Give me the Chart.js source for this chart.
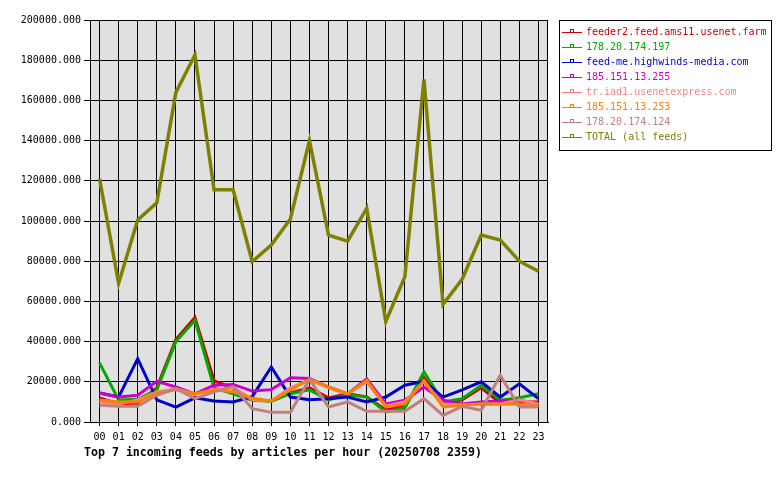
<!DOCTYPE html>
<html>
<head>
<meta charset="utf-8">
<script src="https://cdn.jsdelivr.net/npm/chart.js@4/dist/chart.umd.min.js"></script>
<style>
  html, body { margin: 0; padding: 0; background: #ffffff; }
  #wrap { width: 780px; height: 480px; }
</style>
</head>
<body>
<div id="wrap"><canvas id="c" width="780" height="480"></canvas></div>
<script>
const hours = ['00','01','02','03','04','05','06','07','08','09','10','11','12','13','14','15','16','17','18','19','20','21','22','23'];

const seriesNames = [
  'feeder2.feed.ams11.usenet.farm',
  '178.20.174.197',
  'feed-me.highwinds-media.com',
  '185.151.13.255',
  'tr.iad1.usenetexpress.com',
  '185.151.13.253',
  '178.20.174.124',
  'TOTAL (all feeds)'
];

const feeder2 = [12000, 9000, 9500, 17000, 41000, 52000, 20500, 17000, 11000, 10500, 14500, 17000, 12000, 14000, 12500, 6000, 8000, 22000, 9500, 11000, 17000, 9500, 10000, 10000];
const ip197   = [29400, 11000, 11300, 16000, 40000, 50600, 17000, 14000, 10800, 10300, 14100, 16000, 11000, 13600, 12400, 5000, 7000, 24900, 10000, 11600, 18200, 10800, 12100, 14100];
const highwinds = [14400, 12400, 31500, 11000, 7400, 12000, 10400, 10000, 12600, 27400, 12400, 11100, 11600, 12400, 10000, 12400, 18300, 20200, 12400, 16000, 20000, 12400, 19000, 11600];
const ip255   = [14400, 12400, 13300, 20200, 17400, 14000, 18300, 18700, 15400, 16100, 22000, 21600, 17400, 14000, 21500, 9000, 10800, 17400, 10800, 9000, 10000, 10400, 10800, 9000];
const usenetexpress = [10000, 9000, 11000, 15000, 16500, 14000, 16000, 17000, 11000, 10500, 17000, 21000, 17000, 14000, 20000, 8000, 10000, 20000, 9000, 8500, 9000, 9000, 11000, 9000];
const ip253   = [11000, 10000, 10000, 14400, 16000, 14000, 16000, 15000, 11800, 10500, 16000, 21200, 17400, 14000, 20700, 7500, 9000, 20700, 7500, 8300, 9000, 8800, 9000, 8300];
const ip124   = [8300, 7800, 7800, 13300, 16600, 11600, 15000, 17700, 6600, 4800, 4800, 21200, 7500, 10000, 5300, 5300, 5300, 11600, 3300, 7800, 5800, 23200, 7500, 7500];
const total   = [121000, 69000, 100500, 109000, 164000, 182600, 115500, 115500, 79800, 88000, 101000, 140000, 93000, 90000, 106300, 50000, 72300, 170500, 58500, 71000, 93000, 90500, 80000, 75000];

const yTicks = [0, 20000, 40000, 60000, 80000, 100000, 120000, 140000, 160000, 180000, 200000];

const colors = ['#cc0000', '#00aa00', '#0000cc', '#cc00cc', '#ff8080', '#ff8000', '#c08080', '#808000'];
const values = [feeder2, ip197, highwinds, ip255, usenetexpress, ip253, ip124, total];

const MONO = '"DejaVu Sans Mono", "Liberation Mono", monospace';

const datasets = values.map((v, i) => ({
  label: seriesNames[i],
  data: v,
  borderColor: colors[i],
  backgroundColor: colors[i],
  borderWidth: i === 7 ? 3.5 : 3,
  pointRadius: 0,
  fill: false,
  tension: 0,
  order: values.length - i
}));

const bgPlugin = {
  id: 'bg',
  beforeDraw(chart) {
    const ctx = chart.ctx, a = chart.chartArea;
    ctx.save();
    ctx.fillStyle = '#ffffff';
    ctx.fillRect(0, 0, chart.width, chart.height);
    ctx.fillStyle = '#e0e0e0';
    ctx.fillRect(a.left, a.top, a.right - a.left, a.bottom - a.top);
    ctx.restore();
  },
  beforeDatasetsDraw(chart) {
    const ctx = chart.ctx, a = chart.chartArea;
    ctx.save();
    ctx.strokeStyle = '#000';
    ctx.lineWidth = 1;
    ctx.strokeRect(Math.round(a.left) + 0.5, Math.round(a.top) + 0.5, Math.round(a.right - a.left) - 1, Math.round(a.bottom - a.top));
    ctx.restore();
  },
  afterDraw(chart) {
    const ctx = chart.ctx;
    ctx.save();
    // legend box
    const bx = 559, by = 20, bw = 212, bh = 130;
    ctx.strokeStyle = '#000';
    ctx.lineWidth = 1;
    ctx.strokeRect(bx + 0.5, by + 0.5, bw, bh);
    ctx.font = '10px ' + MONO;
    ctx.textBaseline = 'middle';
    ctx.textAlign = 'left';
    chart.data.datasets.forEach((ds, i) => {
      const y = 32 + i * 15;
      ctx.strokeStyle = ds.borderColor;
      ctx.lineWidth = 1;
      ctx.beginPath();
      ctx.moveTo(562, y + 0.5);
      ctx.lineTo(582, y + 0.5);
      ctx.stroke();
      ctx.strokeRect(570.5, y - 2.5, 3, 3);
      ctx.fillStyle = ds.borderColor;
      ctx.fillText(ds.label, 586, y);
    });
    // bottom title
    ctx.fillStyle = '#000';
    ctx.font = 'bold 11.6px ' + MONO;
    ctx.textBaseline = 'alphabetic';
    ctx.fillText('Top 7 incoming feeds by articles per hour (20250708 2359)', 84, 456);
    ctx.restore();
  }
};

new Chart(document.getElementById('c'), {
  type: 'line',
  data: { labels: hours, datasets: datasets },
  options: {
    responsive: false,
    animation: false,
    devicePixelRatio: 1,
    layout: { padding: { top: 20, right: 232, bottom: 0, left: 0 } },
    plugins: { legend: { display: false }, tooltip: { enabled: false }, title: { display: false } },
    scales: {
      x: {
        type: 'category',
        offset: true,
        grid: { offset: false, color: '#000', lineWidth: 1, tickLength: 4, tickColor: '#000', drawTicks: true },
        border: { display: true, color: '#000', width: 1 },
        ticks: { color: '#000', font: { family: MONO, size: 10 }, padding: 5, maxRotation: 0, autoSkip: false },
        afterFit(s) { s.height = 58; }
      },
      y: {
        min: 0,
        max: 200000,
        afterBuildTicks(s) { s.ticks = yTicks.map(v => ({ value: v })); },
        grid: { color: '#000', lineWidth: 1, tickLength: 6, tickColor: '#000', drawTicks: true },
        border: { display: true, color: '#000', width: 1 },
        ticks: { color: '#000', font: { family: MONO, size: 10 }, padding: 3, callback: v => Number(v).toFixed(3) },
        afterFit(s) { s.width = 90; }
      }
    }
  },
  plugins: [bgPlugin]
});
</script>
</body>
</html>
